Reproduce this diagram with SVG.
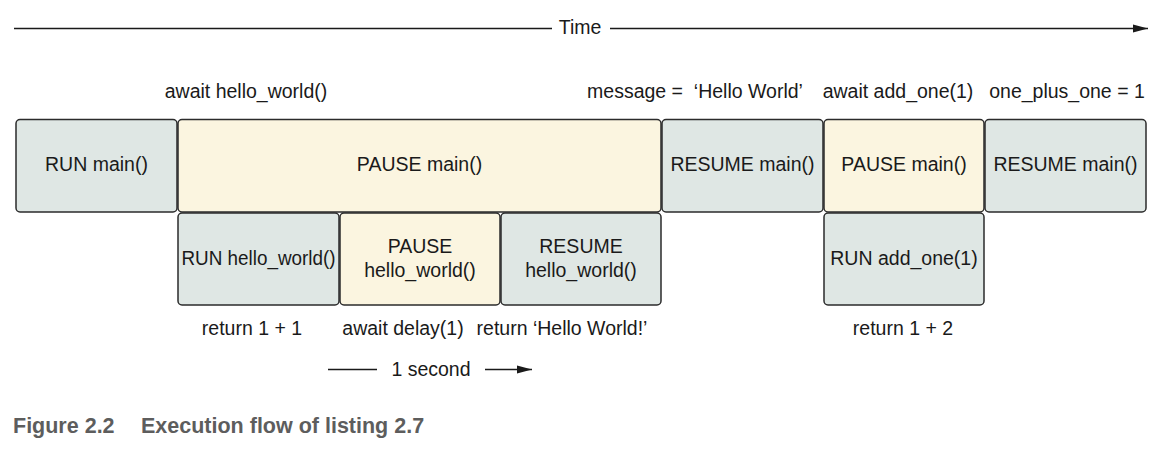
<svg xmlns="http://www.w3.org/2000/svg" width="1164" height="468" viewBox="0 0 1164 468">
<defs>
<style>
.t{font-family:"Liberation Sans",Arial,sans-serif;font-size:19.5px;fill:#1a1a1a;text-anchor:middle}
.run{fill:#dfe7e4;stroke:#2b2b2b;stroke-width:1.5}
.pause{fill:#fbf5e0;stroke:#2b2b2b;stroke-width:1.5}
.ln{stroke:#1a1a1a;stroke-width:1.3;fill:none}
.cap{font-family:"Liberation Sans",Arial,sans-serif;font-size:21.5px;font-weight:bold;fill:#5d5d5d}
</style>
<marker id="ah" markerWidth="16" markerHeight="10" refX="15" refY="4.5" orient="auto" markerUnits="userSpaceOnUse">
<path d="M0,0.5 L15,4.5 L0,8.5 Z" fill="#1a1a1a"/>
</marker>
</defs>
<rect width="1164" height="468" fill="#fff"/>
<g id="connectors">
<line class="ln" x1="14" y1="28.5" x2="552" y2="28.5"/>
<line class="ln" x1="610" y1="28.5" x2="1148" y2="28.5" marker-end="url(#ah)"/>
<line class="ln" x1="328" y1="369.5" x2="377" y2="369.5"/>
<line class="ln" x1="485" y1="369.5" x2="532" y2="369.5" marker-end="url(#ah)"/>
</g>
<text class="t" x="580" y="34">Time</text>
<text class="t" x="246" y="98">await hello_world()</text>
<text class="t" x="695" y="98" style="white-space:pre">message =  ‘Hello World’</text>
<text class="t" x="898" y="98">await add_one(1)</text>
<text class="t" x="1067" y="98">one_plus_one = 1</text>
<g id="run_main"><rect class="run" x="16" y="119.5" width="161" height="92.5" rx="4"/><text class="t" x="96.5" y="171">RUN main()</text></g>
<g id="pause_main"><rect class="pause" x="178" y="119.5" width="483" height="92.5" rx="4"/><text class="t" x="419.5" y="171">PAUSE main()</text></g>
<g id="resume_main"><rect class="run" x="662" y="119.5" width="161" height="92.5" rx="4"/><text class="t" x="742.5" y="171">RESUME main()</text></g>
<g id="pause_main2"><rect class="pause" x="824" y="119.5" width="160" height="92.5" rx="4"/><text class="t" x="904" y="171">PAUSE main()</text></g>
<g id="resume_main2"><rect class="run" x="985" y="119.5" width="161" height="92.5" rx="4"/><text class="t" x="1065.5" y="171">RESUME main()</text></g>
<g id="run_hello"><rect class="run" x="178" y="213" width="161" height="92" rx="4"/><text class="t" x="258.5" y="265" textLength="154" lengthAdjust="spacingAndGlyphs">RUN hello_world()</text></g>
<g id="pause_hello"><rect class="pause" x="340" y="213" width="160" height="92" rx="4"/><text class="t" x="420" y="253">PAUSE</text><text class="t" x="420" y="277">hello_world()</text></g>
<g id="resume_hello"><rect class="run" x="501" y="213" width="160" height="92" rx="4"/><text class="t" x="581" y="253">RESUME</text><text class="t" x="581" y="277">hello_world()</text></g>
<g id="run_add_one"><rect class="run" x="824" y="213" width="160" height="92" rx="4"/><text class="t" x="904" y="265">RUN add_one(1)</text></g>
<text class="t" x="252" y="335">return 1 + 1</text>
<text class="t" x="403" y="335">await delay(1)</text>
<text class="t" x="562" y="335">return ‘Hello World!’</text>
<text class="t" x="903" y="335">return 1 + 2</text>
<text class="t" x="431" y="376">1 second</text>
<text class="cap" x="13" y="433">Figure 2.2</text>
<text class="cap" x="141" y="433">Execution flow of listing 2.7</text>
</svg>
